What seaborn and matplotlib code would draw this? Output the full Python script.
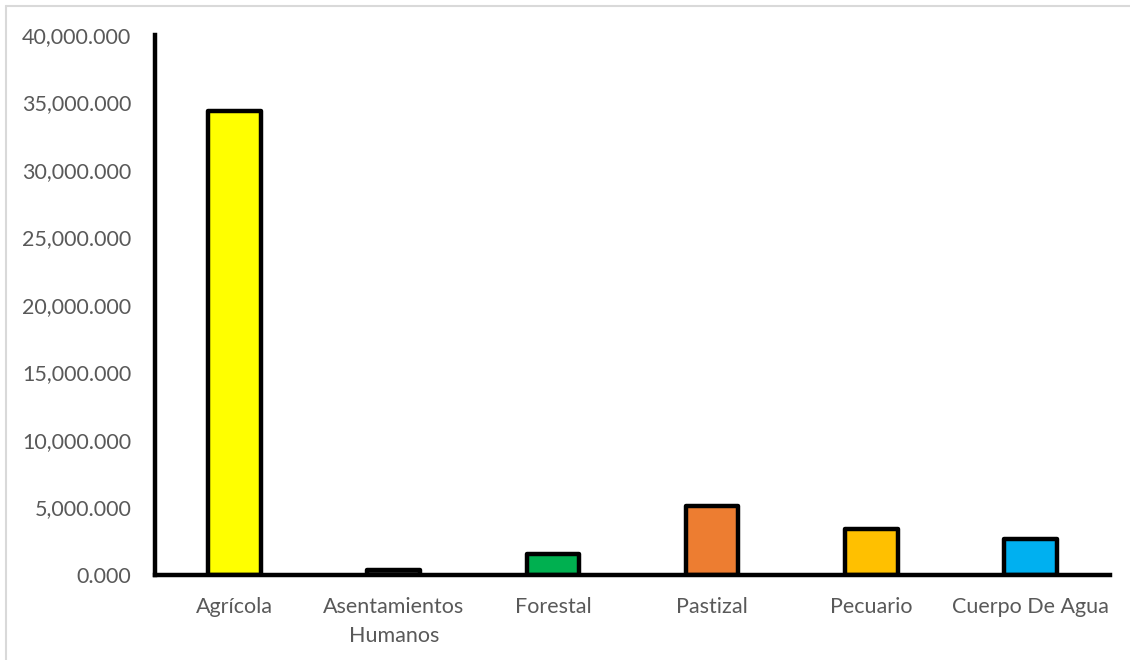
import matplotlib
matplotlib.use("Agg")
import matplotlib.pyplot as plt
from matplotlib.lines import Line2D
from matplotlib.ticker import FuncFormatter
import seaborn as sns
import pandas as pd

# Land use area by category
categories = ["Agrícola", "Asentamientos\nHumanos", "Forestal", "Pastizal", "Pecuario", "Cuerpo De Agua"]
areas = [34370, 380, 1550, 5100, 3400, 2650]
colors = ["#FFFF00", "#404040", "#00B050", "#ED7D31", "#FFC000", "#00B0F0"]

sns.set_theme(style="white")
plt.rcParams["font.family"] = ["Lato", "DejaVu Sans"]

df = pd.DataFrame({"uso": categories, "area": areas})

fig = plt.figure(figsize=(11.3, 6.6), dpi=100)
ax = fig.add_axes([155 / 1130, 85 / 660, 955 / 1130, 540 / 660])

sns.barplot(data=df, x="uso", y="area", hue="uso", palette=colors,
            order=categories, hue_order=categories, legend=False,
            width=0.33, edgecolor="black", linewidth=3.2, ax=ax,
            saturation=1)
for p in ax.patches:
    p.set_joinstyle("round")

ax.set_ylim(0, 40000)
ax.set_xlim(-0.5, 5.5)
ax.set_yticks(range(0, 40001, 5000))
ax.yaxis.set_major_formatter(FuncFormatter(lambda v, _: f"{v:,.3f}"))
ax.set_xlabel("")
ax.set_ylabel("")
ax.tick_params(axis="both", length=0, labelsize=15.5, labelcolor="#595959")
ax.tick_params(axis="y", pad=17)
ax.tick_params(axis="x", pad=16)
for lbl in ax.get_xticklabels():
    lbl.set_linespacing(1.55)

for side in ("top", "right"):
    ax.spines[side].set_visible(False)
for side in ("left", "bottom"):
    ax.spines[side].set_color("black")
    ax.spines[side].set_linewidth(3.2)
    ax.spines[side].set_capstyle("projecting")

# Chart area frame
fig.add_artist(Line2D([5.5 / 1130, 5.5 / 1130], [0, 1 - 5.5 / 660],
                      transform=fig.transFigure, color="#D9D9D9", lw=1.5))
fig.add_artist(Line2D([5.5 / 1130, 1], [1 - 5.5 / 660, 1 - 5.5 / 660],
                      transform=fig.transFigure, color="#D9D9D9", lw=1.5))

fig.savefig("out.png", dpi=100, facecolor="white")
